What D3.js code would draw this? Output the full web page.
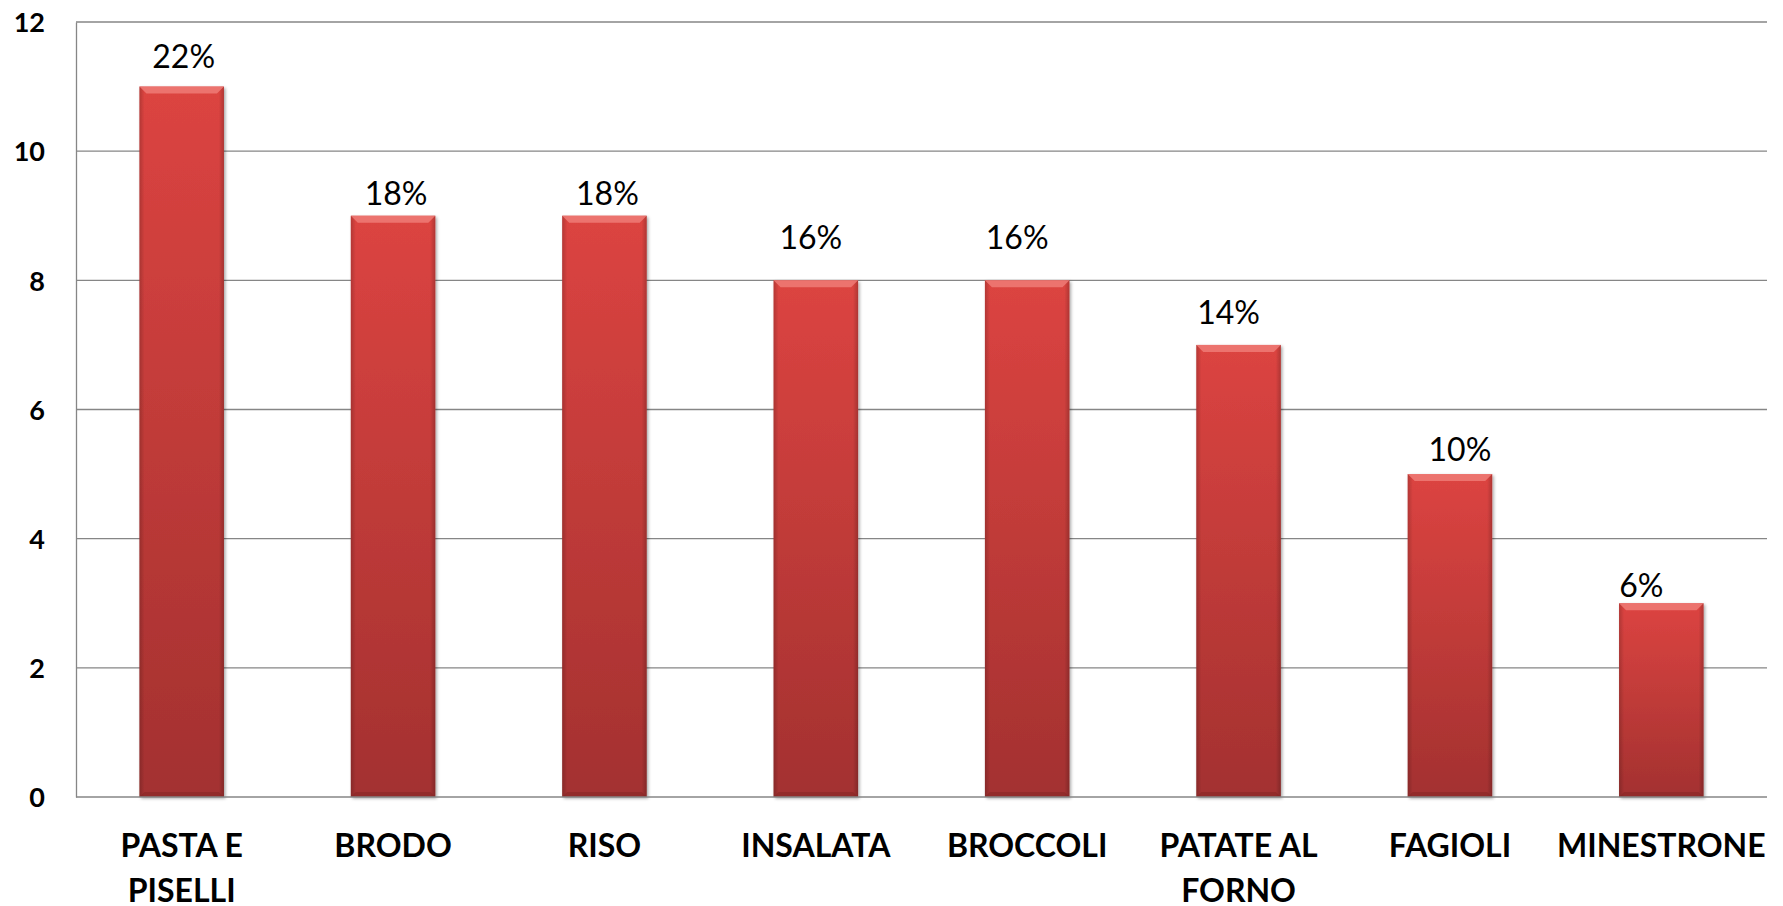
<!DOCTYPE html>
<html><head><meta charset="utf-8">
<script src="https://cdn.jsdelivr.net/npm/d3@7"></script>
<style>html,body{margin:0;padding:0;background:#fff;}svg{display:block;}</style>
</head><body>
<svg id="chart" width="1783" height="906"></svg>
<script>
const categories = ["PASTA E PISELLI","BRODO","RISO","INSALATA","BROCCOLI","PATATE AL FORNO","FAGIOLI","MINESTRONE"];
const categoryLines = [["PASTA E","PISELLI"],["BRODO"],["RISO"],["INSALATA"],["BROCCOLI"],["PATATE AL","FORNO"],["FAGIOLI"],["MINESTRONE"]];
const values = [11, 9, 9, 8, 8, 7, 5, 3];
const percentLabels = ["22%","18%","18%","16%","16%","14%","10%","6%"];
const yTicks = [0, 2, 4, 6, 8, 10, 12];
// layout only: manual nudges of the data labels (px), as placed in the reference
const labelDx = [2, 3, 3, -5, -10, -10, 10, -20];
const labelGap = [19, 11, 11, 31, 31, 21, 13, 6];

const svg = d3.select("#chart");
const mLeft = 76, mRight = 1767, mTop = 22, mBottom = 797;
const x = d3.scaleBand().domain(categories).range([mLeft, mRight]).paddingInner(0.6).paddingOuter(0.3);
const y = d3.scaleLinear().domain([0, 12]).range([mBottom, mTop]);

const defs = svg.append("defs");
const g = defs.append("linearGradient").attr("id","barGrad").attr("x1",0).attr("y1",0).attr("x2",0).attr("y2",1);
g.append("stop").attr("offset","0%").attr("stop-color","#dc4441");
g.append("stop").attr("offset","100%").attr("stop-color","#a33130");
const sg = defs.append("linearGradient").attr("id","sideGrad").attr("x1",0).attr("y1",0).attr("x2",1).attr("y2",0);
sg.append("stop").attr("offset","0%").attr("stop-color","#000").attr("stop-opacity",0.18);
sg.append("stop").attr("offset","6%").attr("stop-color","#000").attr("stop-opacity",0);
sg.append("stop").attr("offset","94%").attr("stop-color","#000").attr("stop-opacity",0);
sg.append("stop").attr("offset","100%").attr("stop-color","#000").attr("stop-opacity",0.2);
const f = defs.append("filter").attr("id","shadow").attr("x","-10%").attr("y","-10%").attr("width","120%").attr("height","120%");
f.append("feDropShadow").attr("dx",1.5).attr("dy",1.5).attr("stdDeviation",1.5).attr("flood-color","#000").attr("flood-opacity",0.35);

// gridlines
svg.append("g").selectAll("line").data(yTicks.filter(d => d > 0)).join("line")
  .attr("x1", mLeft).attr("x2", mRight)
  .attr("y1", d => y(d)).attr("y2", d => y(d))
  .attr("stroke", "#868686").attr("stroke-width", 1.3);

// y axis
const yAxis = d3.axisLeft(y).tickValues(yTicks).tickSize(0).tickPadding(31);
const ya = svg.append("g").attr("transform", `translate(${mLeft},0)`).call(yAxis);
ya.select(".domain").attr("stroke", "#868686").attr("stroke-width", 1.3);
ya.selectAll("text").attr("font-family","Lato, 'Open Sans', sans-serif").attr("font-weight","bold")
  .attr("font-size", 27).attr("fill","#000").attr("dy","0.36em");

// bars
const bars = svg.append("g").selectAll("g").data(categories).join("g");
bars.append("rect")
  .attr("x", d => x(d)).attr("width", x.bandwidth())
  .attr("y", (d,i) => y(values[i])).attr("height", (d,i) => y(0) - y(values[i]))
  .attr("fill", "url(#barGrad)").attr("filter","url(#shadow)");
bars.append("rect")
  .attr("x", d => x(d)).attr("width", x.bandwidth())
  .attr("y", (d,i) => y(values[i])).attr("height", (d,i) => y(0) - y(values[i]))
  .attr("fill", "url(#sideGrad)");
// top bevel
bars.append("path")
  .attr("d", (d,i) => {
    const x0 = x(d), x1 = x(d) + x.bandwidth(), t = y(values[i]), b = 7;
    return `M${x0},${t}L${x1},${t}L${x1-b},${t+b}L${x0+b},${t+b}Z`;
  })
  .attr("fill", "#ee7b77").attr("opacity", 0.85);
// bottom bevel
bars.append("path")
  .attr("d", (d,i) => {
    const x0 = x(d), x1 = x(d) + x.bandwidth(), bt = y(0), b = 5;
    return `M${x0},${bt}L${x1},${bt}L${x1-b},${bt-b}L${x0+b},${bt-b}Z`;
  })
  .attr("fill", "#7e2322").attr("opacity", 0.45);

// x axis line
svg.append("line").attr("x1", mLeft).attr("x2", mRight).attr("y1", y(0)).attr("y2", y(0))
  .attr("stroke", "#868686").attr("stroke-width", 1.3);

// data labels
svg.append("g").selectAll("text").data(categories).join("text")
  .attr("x", (d,i) => x(d) + x.bandwidth()/2 + labelDx[i])
  .attr("y", (d,i) => y(values[i]) - labelGap[i])
  .attr("text-anchor","middle")
  .attr("font-family","Lato, 'Open Sans', sans-serif").attr("font-size", 32).attr("fill","#000")
  .text((d,i) => percentLabels[i]);

// category labels
const cl = svg.append("g").selectAll("text").data(categories).join("text")
  .attr("text-anchor","middle")
  .attr("font-family","Lato, 'Open Sans', sans-serif").attr("font-weight","bold")
  .attr("font-size", 32).attr("fill","#000");
cl.each(function(d,i){
  const t = d3.select(this);
  categoryLines[i].forEach((ln, j) => {
    t.append("tspan").attr("x", x(d) + x.bandwidth()/2).attr("y", 857 + j*45).text(ln);
  });
});
</script>
</body></html>
